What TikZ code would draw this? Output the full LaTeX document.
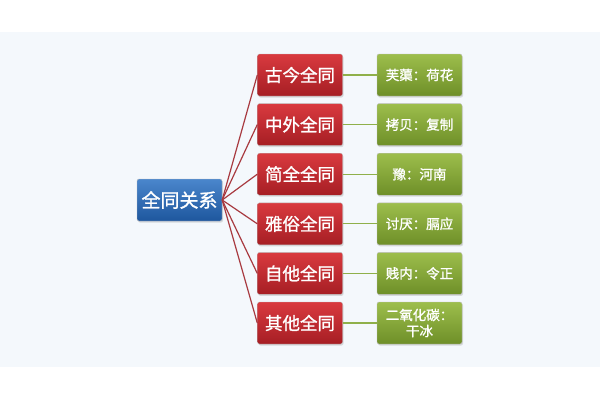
\documentclass[tikz,border=0pt]{standalone}
\usepackage{fontspec}
\newfontfamily\cjk{Noto Sans CJK SC}[FakeBold=1.2]
\usetikzlibrary{shadows}
\definecolor{bluetop}{HTML}{4A86CC}
\definecolor{bluebot}{HTML}{1E579E}
\definecolor{redtop}{HTML}{D93A3F}
\definecolor{redbot}{HTML}{A61E24}
\definecolor{greentop}{HTML}{9DBE4C}
\definecolor{greenbot}{HTML}{6E8F28}
\definecolor{redline}{HTML}{A83A40}
\definecolor{greenline}{HTML}{8FB04A}
\definecolor{backpale}{HTML}{F4F8FC}
\tikzset{basic/.style={draw=white!75!black,rounded corners=2pt,
                       text=white,inner sep=1pt,align=center,
                       minimum width=85pt,minimum height=42pt,
                       drop shadow={opacity=0.25,shadow xshift=1pt,shadow yshift=-1.5pt}}}
\tikzset{rootbox/.style={basic,top color=bluetop,bottom color=bluebot,
                         font=\cjk\fontsize{19}{22}\selectfont}}
\tikzset{kindbox/.style={basic,top color=redtop,bottom color=redbot,
                         font=\cjk\fontsize{17.5}{20}\selectfont}}
\tikzset{casebox/.style={basic,top color=greentop,bottom color=greenbot,
                         font=\cjk\fontsize{13.5}{16}\selectfont}}

\begin{document}
\begin{tikzpicture}[x=1pt,y=-1pt]
    % Background
    \fill[white] (0,0) rectangle (600,400);
    \fill[backpale] (0,32) rectangle (600,367);
    \useasboundingbox (0,0) rectangle (600,400);

    % Draw the root node
    \node[rootbox] (root) at (179.5,200) {全同关系};

    % Draw the kinds and their cases
    \foreach \name / \kind / \case / \y in {1/古今全同/芙蕖：荷花/75,
                                           2/中外全同/拷贝：复制/124.6,
                                           3/简全全同/豫：河南/174.2,
                                           4/雅俗全同/讨厌：膈应/223.8,
                                           5/自他全同/贱内：令正/273.4,
                                           6/其他全同/{二氧化碳：\\干冰}/323}
    {
        \node[kindbox] (K-\name) at (300,\y) {\kind};
        \node[casebox] (C-\name) at (419.5,\y) {\case};
    }

    % Connect the root with every kind, and every kind with its case
    \foreach \name in {1,...,6}
    {
        \draw[redline,line width=1.2pt] (root.east) -- (K-\name.west);
        \draw[greenline,line width=1.2pt] (K-\name.east) -- (C-\name.west);
    }
\end{tikzpicture}
\end{document}
